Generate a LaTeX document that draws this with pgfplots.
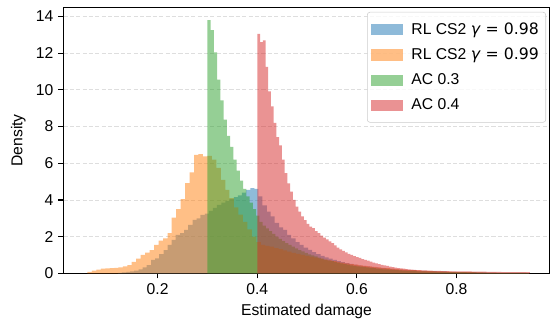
\documentclass[border=0pt]{standalone}
\usepackage{fontspec}
\setmainfont{Liberation Sans}
\newfontfamily\dejavu{DejaVu Sans}
\usepackage{pgfplots}
\pgfplotsset{compat=1.18}
\definecolor{tabblue}{HTML}{1F77B4}
\definecolor{taborange}{HTML}{FF7F0E}
\definecolor{tabgreen}{HTML}{2CA02C}
\definecolor{tabred}{HTML}{D62728}
\begin{document}
\begin{tikzpicture}
\begin{axis}[
  scale only axis, width=350.2pt, height=191.5pt,
  xmin=0.0107, xmax=0.987, ymin=0, ymax=14.5,
  xtick={0.2,0.4,0.6,0.8}, xticklabels={0.2,0.4,0.6,0.8},
  ytick={0,2,4,6,8,10,12,14},
  tick align=outside, tick pos=left, major tick length=3.6pt,
  every tick/.style={black, line width=0.8pt},
  axis line style={line width=0.8pt},
  ymajorgrids, grid style={black!13, dash pattern=on 3pt off 1.6pt, line width=0.6pt},
  font=\fontsize{11.3}{13.5}\selectfont,
  /pgf/number format/assume math mode=true,
  xlabel={Estimated damage}, ylabel={Density},
  xlabel style={at={(axis description cs:0.5,0)}, anchor=center, yshift=-27.6pt},
  ylabel style={at={(axis description cs:-0.0926,0.5)}, anchor=center},
  legend image code/.code={\fill[#1, sharp corners] (0pt,-4.1pt) rectangle (22.8pt,4.1pt);},
  legend cell align=left,
  legend style={at={(0.9924,0.983)}, anchor=north east, draw=black!20, fill=white, fill opacity=0.8, text opacity=1, rounded corners=2pt, inner xsep=3pt, inner ysep=5.5pt, row sep=4.6pt, column sep=4pt, font=\fontsize{11.3}{13.5}\selectfont},
]
\coordinate (sw) at (rel axis cs:0,0);
\coordinate (ne) at (rel axis cs:1,1);
% RL CS2 gamma=0.98
\addplot[fill=tabblue, fill opacity=0.5, draw=none, const plot] coordinates {
(0.120,0.03)(0.128,0.05)(0.137,0.08)(0.145,0.10)(0.153,0.15)(0.162,0.22)(0.170,0.32)(0.178,0.45)
(0.187,0.73)(0.195,0.82)(0.203,1.05)(0.212,1.27)(0.220,1.55)(0.228,1.82)(0.236,2.09)(0.245,2.19)
(0.253,2.37)(0.261,2.64)(0.270,2.91)(0.278,3.00)(0.286,3.19)(0.295,3.25)(0.303,3.40)(0.311,3.57)
(0.319,3.73)(0.328,3.85)(0.336,3.95)(0.344,4.05)(0.353,4.15)(0.361,4.25)(0.369,4.40)(0.377,4.55)
(0.386,4.65)(0.394,4.60)(0.402,4.20)(0.410,3.70)(0.419,3.37)(0.427,3.10)(0.435,2.75)(0.444,2.50)
(0.452,2.37)(0.460,2.10)(0.468,1.90)(0.477,1.70)(0.485,1.55)(0.493,1.40)(0.502,1.28)(0.510,1.15)
(0.518,1.05)(0.527,0.95)(0.535,0.87)(0.543,0.80)(0.551,0.73)(0.560,0.66)(0.568,0.61)(0.576,0.56)
(0.585,0.52)(0.593,0.48)(0.601,0.44)(0.609,0.41)(0.618,0.38)(0.626,0.35)(0.634,0.32)(0.643,0.30)
(0.651,0.28)(0.659,0.26)(0.667,0.24)(0.676,0.22)(0.684,0.20)(0.692,0.19)(0.700,0.17)(0.720,0.14)
(0.740,0.12)(0.760,0.10)(0.780,0.08)(0.800,0.07)(0.820,0.06)(0.840,0.05)(0.860,0.04)(0.880,0.03)
(0.900,0.03)(0.920,0.02)(0.940,0.01)(0.945,0.01)
} \closedcycle;
\addlegendentry{RL CS2 {\dejavu\textit{γ} = 0.98}}
% RL CS2 gamma=0.99
\addplot[fill=taborange, fill opacity=0.5, draw=none, const plot] coordinates {
(0.059,0.08)(0.068,0.15)(0.077,0.20)(0.086,0.25)(0.095,0.27)(0.104,0.28)(0.113,0.30)(0.121,0.33)
(0.130,0.38)(0.139,0.45)(0.148,0.62)(0.157,0.80)(0.166,1.00)(0.175,1.13)(0.184,1.27)(0.193,1.55)
(0.202,1.78)(0.211,1.91)(0.220,2.19)(0.228,3.04)(0.237,3.50)(0.246,4.04)(0.255,4.92)(0.264,5.50)
(0.273,6.46)(0.282,6.50)(0.291,6.37)(0.300,6.40)(0.309,6.20)(0.318,5.75)(0.327,5.10)(0.336,4.55)
(0.344,4.10)(0.353,3.60)(0.362,3.20)(0.371,2.80)(0.380,2.40)(0.389,2.00)(0.398,1.70)(0.407,1.55)
(0.416,1.50)(0.425,1.45)(0.434,1.38)(0.443,1.32)(0.452,1.25)(0.460,1.18)(0.469,1.12)(0.478,1.06)
(0.487,1.00)(0.496,0.95)(0.505,0.90)(0.514,0.85)(0.523,0.80)(0.532,0.75)(0.541,0.70)(0.550,0.66)
(0.559,0.62)(0.567,0.58)(0.576,0.54)(0.585,0.50)(0.594,0.47)(0.603,0.44)(0.612,0.41)(0.621,0.38)
(0.630,0.35)(0.639,0.32)(0.648,0.30)(0.657,0.28)(0.666,0.26)(0.674,0.24)(0.683,0.22)(0.692,0.20)
(0.701,0.18)(0.710,0.17)(0.719,0.16)(0.728,0.14)(0.737,0.13)(0.746,0.12)(0.755,0.11)(0.764,0.10)
(0.773,0.09)(0.781,0.09)(0.790,0.08)(0.799,0.07)(0.808,0.07)(0.817,0.06)(0.826,0.06)(0.835,0.05)
(0.844,0.05)(0.853,0.04)(0.862,0.04)(0.871,0.04)(0.880,0.03)(0.888,0.03)(0.897,0.03)(0.906,0.02)
(0.915,0.02)(0.924,0.02)(0.933,0.02)(0.942,0.01)(0.945,0.01)
} \closedcycle;
\addlegendentry{RL CS2 {\dejavu\textit{γ} = 0.99}}
% AC 0.3
\addplot[fill=tabgreen, fill opacity=0.5, draw=none, const plot] coordinates {
(0.3000,13.80)(0.3065,13.26)(0.3130,12.05)(0.3195,10.56)(0.3260,9.43)(0.3325,8.38)(0.3390,7.50)
(0.3455,6.90)(0.3520,6.20)(0.3585,5.60)(0.3650,5.05)(0.3715,4.60)(0.3780,4.20)(0.3845,3.85)
(0.3910,3.50)(0.3975,3.15)(0.4040,2.80)(0.4105,2.60)(0.4170,2.45)(0.4235,2.30)(0.4300,2.15)
(0.4365,2.00)(0.4430,1.88)(0.4495,1.76)(0.4560,1.65)(0.4625,1.55)(0.4690,1.45)(0.4755,1.36)
(0.4820,1.27)(0.4885,1.19)(0.4950,1.11)(0.5015,1.04)(0.5080,0.98)(0.5145,0.92)(0.5210,0.86)
(0.5275,0.80)(0.5340,0.75)(0.5405,0.70)(0.5470,0.66)(0.5535,0.62)(0.5600,0.58)(0.5665,0.54)
(0.5730,0.50)(0.5795,0.47)(0.5860,0.44)(0.5925,0.41)(0.5990,0.38)(0.6055,0.36)(0.6120,0.34)
(0.6185,0.32)(0.6250,0.30)(0.6315,0.28)(0.6380,0.26)(0.6445,0.24)(0.6510,0.22)(0.6575,0.21)
(0.6640,0.20)(0.6705,0.18)(0.6770,0.17)(0.6835,0.16)(0.6900,0.15)(0.7000,0.13)(0.7200,0.11)
(0.7400,0.09)(0.7600,0.08)(0.7800,0.07)(0.8000,0.06)(0.8200,0.05)(0.8400,0.04)(0.8600,0.03)
(0.8800,0.03)(0.9000,0.02)(0.9200,0.02)(0.9400,0.01)(0.9450,0.01)
} \closedcycle;
\addlegendentry{AC 0.3}
% AC 0.4
\addplot[fill=tabred, fill opacity=0.5, draw=none, const plot] coordinates {
(0.4000,13.06)(0.4055,12.60)(0.4110,12.70)(0.4165,11.26)(0.4220,9.92)(0.4275,9.10)(0.4330,8.20)
(0.4385,7.43)(0.4440,6.97)(0.4495,6.20)(0.4550,5.46)(0.4605,4.90)(0.4660,4.46)(0.4715,4.00)
(0.4770,3.64)(0.4825,3.37)(0.4880,3.10)(0.4935,2.90)(0.4990,2.70)(0.5045,2.55)(0.5100,2.46)
(0.5155,2.30)(0.5210,2.19)(0.5265,2.05)(0.5320,1.95)(0.5375,1.85)(0.5430,1.74)(0.5485,1.64)
(0.5540,1.52)(0.5595,1.40)(0.5650,1.30)(0.5705,1.22)(0.5760,1.14)(0.5815,1.06)(0.5870,1.00)
(0.5925,0.94)(0.5980,0.88)(0.6035,0.84)(0.6090,0.78)(0.6145,0.73)(0.6200,0.69)(0.6255,0.64)
(0.6310,0.59)(0.6365,0.54)(0.6420,0.50)(0.6475,0.46)(0.6530,0.43)(0.6585,0.40)(0.6640,0.37)
(0.6695,0.34)(0.6750,0.31)(0.6805,0.29)(0.6860,0.27)(0.6915,0.25)(0.6970,0.23)(0.7025,0.21)
(0.7080,0.20)(0.7135,0.19)(0.7190,0.18)(0.7245,0.17)(0.7300,0.16)(0.7355,0.16)(0.7410,0.15)
(0.7465,0.15)(0.7520,0.14)(0.7575,0.13)(0.7630,0.13)(0.7685,0.12)(0.7740,0.12)(0.7850,0.11)
(0.8000,0.10)(0.8150,0.10)(0.8300,0.09)(0.8450,0.09)(0.8600,0.08)(0.8750,0.08)(0.8900,0.07)
(0.9050,0.07)(0.9200,0.06)(0.9350,0.06)(0.9470,0.06)
} \closedcycle;
\addlegendentry{AC 0.4}
\end{axis}
\pgfresetboundingbox
\path ([shift={(-45.6pt,-37.2pt)}]sw) rectangle ([shift={(0.2pt,5.3pt)}]ne);
\end{tikzpicture}
\end{document}
